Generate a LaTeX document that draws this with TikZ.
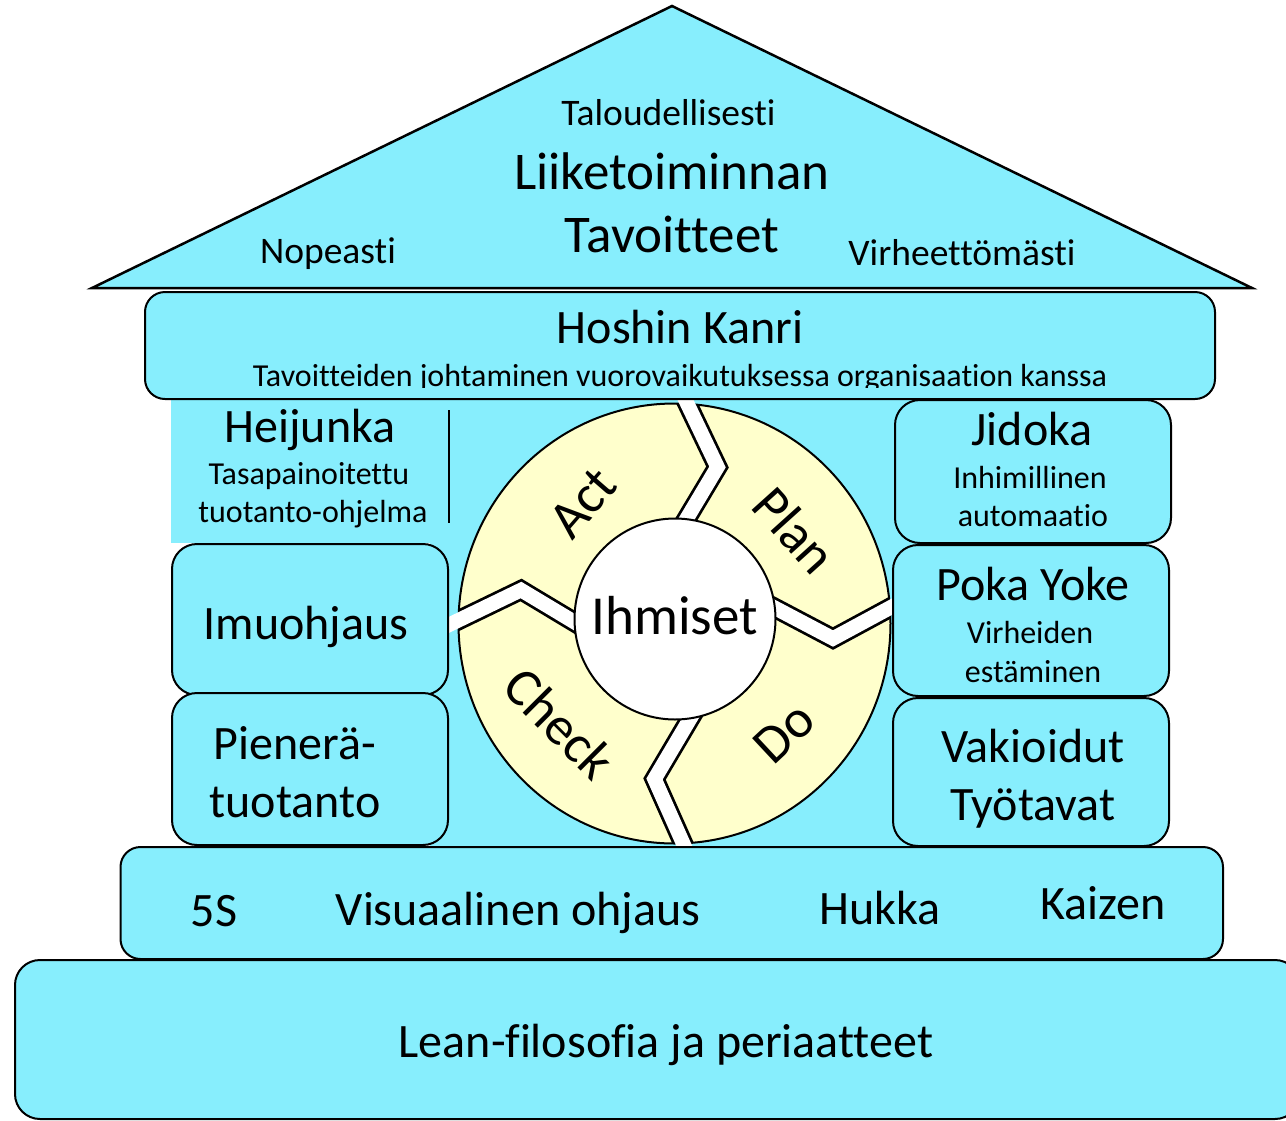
\documentclass[tikz,border=0pt]{standalone}
\usepackage{fontspec}
\setmainfont{Carlito}[Ligatures={NoCommon,NoRare}]
\definecolor{lblue}{RGB}{135,238,253}
\definecolor{lyellow}{RGB}{255,255,204}
\begin{document}
\begin{tikzpicture}[x=1pt,y=-1pt,
  box/.style={draw=black, line width=2pt, fill=lblue},
  big/.style={font=\fontsize{48}{56}\selectfont, inner sep=0pt, anchor=base},
  huge/.style={font=\fontsize{53}{60}\selectfont, inner sep=0pt, anchor=base},
  mid/.style={font=\fontsize{37.5}{44}\selectfont, inner sep=0pt, anchor=base},
  small/.style={font=\fontsize{32}{38}\selectfont, inner sep=0pt, anchor=base},
  pdca/.style={font=\fontsize{54}{60}\selectfont, inner sep=0pt, anchor=center},
  gapblack/.style={line width=20pt, draw=black, line join=miter, miter limit=10},
  gapwhite/.style={line width=14.5pt, draw=white, line join=miter, miter limit=10}]
\useasboundingbox (0,0) rectangle (1286,1120);
\clip (0,0) rectangle (1286,1120);

% backgrounds
\fill[lblue] (171,399) rectangle (449,543);
\fill[lblue] (430,399) rectangle (1000,848);

% roof
\draw[fill=lblue, line width=2.5pt, line join=miter] (92,288) -- (672,6) -- (1252,288) -- cycle;

% PDCA cycle
\coordinate (cc) at (674.5,623.5);
\fill[lyellow] (cc) ellipse [x radius=216, y radius=220];
\draw[line width=2pt] (cc) ellipse [x radius=216, y radius=220];
\begin{scope}
  \clip (cc) ellipse [x radius=216, y radius=220];
  \draw[gapblack] (676,380) -- (717.5,467) -- (662,560);
  \draw[gapblack] (920,591.5) -- (833,638.5) -- (720,579);
  \draw[gapblack] (695,870) -- (654.5,779) -- (713,680);
  \draw[gapblack] (430,634) -- (521,590) -- (620,649.5);
\end{scope}
\draw[gapwhite] (676,380) -- (717.5,467) -- (662,560);
\draw[gapwhite] (920,591.5) -- (833,638.5) -- (720,579);
\draw[gapwhite] (695,870) -- (654.5,779) -- (713,680);
\draw[gapwhite] (430,634) -- (521,590) -- (620,649.5);
\draw[fill=white, line width=2pt] (675,619) circle [radius=100.5];

% Hoshin Kanri
\draw[box, rounded corners=20pt] (145,292) rectangle (1215,399);
\draw[line width=1.5pt] (449,410) -- (449,523);

% left pillars
\draw[box, rounded corners=25pt] (172,544) rectangle (448,695);
\draw[box, rounded corners=25pt] (172,693) rectangle (448,845);
% right pillars
\draw[box, rounded corners=25pt] (895,400) rectangle (1171,543);
\draw[box, rounded corners=25pt] (893,545) rectangle (1169,696);
\draw[box, rounded corners=25pt] (893,698) rectangle (1169,846);

% bands
\draw[box, rounded corners=20pt] (120.5,847) rectangle (1223,959);
\draw[box, rounded corners=25pt] (15,960) rectangle (1300,1119);

% texts: roof
\node[mid] (talou) at (668.5,125) {Taloudellisesti};
\node[huge] (liike) at (672,189) {Liiketoiminnan};
\node[huge] (tavoit) at (672,252) {Tavoitteet};
\node[mid] (nopea) at (328,263) {Nopeasti};
\node[mid] (virhe) at (962,265) {Virheettömästi};

% Hoshin
\node[big] (hoshin) at (680,343) {Hoshin Kanri};
\begin{scope}
  \clip (140,300) rectangle (1220,387);
  \node[small] (hoshinsub) at (680,386) {Tavoitteiden johtaminen vuorovaikutuksessa organisaation kanssa};
\end{scope}

% left
\node[big] (heij) at (310,442) {Heijunka};
\node[small] (heij1) at (309,484) {Tasapainoitettu};
\node[small] (heij2) at (313,522) {tuotanto-ohjelma};
\node[big] (imuo) at (306,639) {Imuohjaus};
\node[big] (pien1) at (295,759) {Pienerä-};
\node[big] (pien2) at (295,817) {tuotanto};

% right
\node[big] (jido) at (1032,445) {Jidoka};
\node[small] (jido1) at (1030,488) {Inhimillinen};
\node[small] (jido2) at (1033,526) {automaatio};
\node[big] (poka) at (1033,600) {Poka Yoke};
\node[small] (poka1) at (1030,643) {Virheiden};
\node[small] (poka2) at (1033,682) {estäminen};
\node[big] (vaki1) at (1033,762) {Vakioidut};
\node[big] (vaki2) at (1033,820) {Työtavat};

% cycle labels
\node[font=\fontsize{55}{62}\selectfont, inner sep=0pt, anchor=base] (ihm) at (674.5,634) {Ihmiset};
\node[pdca, rotate=49] (act) at (583,503) {Act};
\node[pdca, rotate=-48] (plan) at (795,530) {Plan};
\node[pdca, rotate=-45] (check) at (560,723) {Check};
\node[pdca, rotate=43] (do) at (784,733) {Do};

% band texts
\node[big] (fives) at (214,926) {5S};
\node[big] (visu) at (518,925) {Visuaalinen ohjaus};
\node[big] (hukka) at (880,924) {Hukka};
\node[big] (kaiz) at (1103,919) {Kaizen};
\node[big] (lean) at (666,1057) {Lean-filosofia ja periaatteet};
\end{tikzpicture}
\end{document}
